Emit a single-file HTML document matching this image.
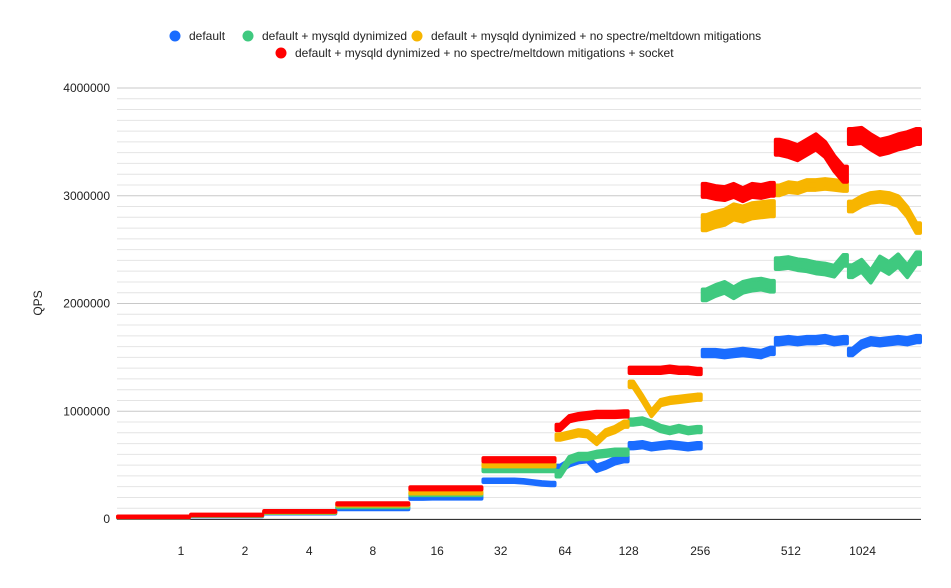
<!DOCTYPE html>
<html><head><meta charset="utf-8"><style>
body{margin:0;background:#fff;}
svg{display:block;font-family:"Liberation Sans",Arial,sans-serif;}
</style></head><body>
<svg id="chart" width="951" height="588">
<g id="legend" font-size="12" fill="#222">
 <g><circle cx="175" cy="36" r="5.5" fill="#1a6cff"/><text x="189" y="40">default</text></g>
 <g><circle cx="248" cy="36" r="5.5" fill="#3fc97f"/><text x="262" y="40">default + mysqld dynimized</text></g>
 <g><circle cx="417" cy="36" r="5.5" fill="#f7b500"/><text x="431" y="40">default + mysqld dynimized + no spectre/meltdown mitigations</text></g>
 <g><circle cx="281" cy="53" r="5.5" fill="#ff0000"/><text x="295" y="57">default + mysqld dynimized + no spectre/meltdown mitigations + socket</text></g>
</g>
<g id="grid"></g>
<g id="yticks" font-size="12" fill="#222" text-anchor="end"></g>
<g id="xticks" font-size="12" fill="#222" text-anchor="middle"></g>
<text x="42" y="303" font-size="12" fill="#222" text-anchor="middle" transform="rotate(-90 42 303)">QPS</text>
<g id="series"></g>
</svg>
<script>
const yTicks=[0,1000000,2000000,3000000,4000000];
const xLabels=["1","2","4","8","16","32","64","128","256","512","1024"];
const xLabelPos=[0.876,1.75,2.63,3.5,4.38,5.25,6.13,7.0,7.98,9.22,10.2];
const seriesNames=["default","dynimized","no-mitigations","socket"];
const colors=["#1a6cff","#3fc97f","#f7b500","#ff0000"];
// 8 samples per thread-count segment, 11 segments
const blue=[15000,15000,15000,15000,15000,15000,15000,15000, 28000,28000,28000,28000,28000,28000,28000,28000, 55000,55000,55000,55000,55000,55000,55000,55000, 97000,97000,97000,97000,97000,97000,97000,97000, 195000,195000,197000,197000,197000,197000,197000,197000, 355000,355000,355000,355000,350000,340000,330000,325000, 470000,520000,550000,560000,470000,500000,540000,560000, 680000,690000,670000,680000,690000,680000,670000,680000, 1540000,1540000,1530000,1540000,1550000,1540000,1530000,1560000, 1650000,1660000,1650000,1660000,1660000,1670000,1650000,1660000, 1550000,1620000,1650000,1640000,1650000,1660000,1650000,1670000];
const green=[17000,17000,17000,17000,17000,17000,17000,17000, 32000,32000,32000,32000,32000,32000,32000,32000, 60000,60000,60000,60000,60000,60000,60000,60000, 115000,115000,115000,115000,115000,115000,115000,115000, 230000,230000,230000,230000,230000,230000,230000,230000, 455000,455000,455000,455000,455000,455000,455000,455000, 420000,550000,580000,580000,600000,610000,620000,620000, 900000,910000,880000,840000,820000,840000,820000,830000, 2080000,2120000,2150000,2100000,2150000,2170000,2180000,2160000, 2370000,2380000,2360000,2350000,2330000,2320000,2300000,2400000, 2300000,2350000,2250000,2380000,2330000,2400000,2300000,2420000];
const yellow=[18000,18000,18000,18000,18000,18000,18000,18000, 35000,35000,35000,35000,35000,35000,35000,35000, 65000,65000,65000,65000,65000,65000,65000,65000, 130000,130000,130000,130000,130000,130000,130000,130000, 245000,245000,245000,245000,245000,245000,245000,245000, 500000,500000,500000,500000,500000,500000,500000,500000, 760000,780000,800000,790000,720000,800000,830000,880000, 1250000,1120000,980000,1080000,1100000,1110000,1120000,1130000, 2750000,2780000,2800000,2850000,2830000,2860000,2870000,2880000, 3050000,3080000,3070000,3100000,3100000,3110000,3100000,3090000, 2900000,2950000,2980000,2990000,2980000,2950000,2850000,2700000];
const red=[20000,20000,20000,20000,20000,20000,20000,20000, 38000,38000,38000,38000,38000,38000,38000,38000, 70000,70000,70000,70000,70000,70000,70000,70000, 140000,140000,140000,140000,140000,140000,140000,140000, 285000,285000,285000,285000,285000,285000,285000,285000, 550000,550000,550000,550000,550000,550000,550000,550000, 850000,930000,950000,960000,970000,970000,970000,975000, 1380000,1380000,1380000,1380000,1390000,1380000,1380000,1370000, 3050000,3030000,3020000,3050000,3010000,3050000,3040000,3060000, 3450000,3430000,3400000,3450000,3500000,3430000,3300000,3200000, 3550000,3560000,3500000,3450000,3470000,3500000,3520000,3550000];
const spreadPerSeg=[
 [3000,3000,4000,6000,8000,12000,25000,25000,30000,30000,30000],
 [3000,3000,4000,6000,8000,12000,25000,25000,50000,50000,55000],
 [3000,3000,4000,6000,8000,12000,25000,25000,70000,45000,45000],
 [3000,3000,4000,6000,10000,15000,25000,25000,60000,70000,70000]];
const data=[blue,green,yellow,red];

const X0=117,X1=921,Y0=519,Y4=88,VMAX=4000000,SEG=11,PER=8;
const yS=v=>Y0-(v/VMAX)*(Y0-Y4);
const xS=t=>X0+((t+0.5)/(SEG*PER))*(X1-X0);
const xSeg=s=>X0+(s/SEG)*(X1-X0);
const NS="http://www.w3.org/2000/svg";
function mk(tag,attrs,parent){const e=document.createElementNS(NS,tag);for(const k in attrs)e.setAttribute(k,attrs[k]);parent.appendChild(e);return e;}
const grid=document.getElementById('grid');
for(let v=0;v<=VMAX;v+=100000){
 const major=v%1000000===0;
 const l=mk('line',{x1:X0,x2:X1,y1:yS(v),y2:yS(v),stroke:major?'#c8c8c8':'#e4e4e4','stroke-width':1},grid);
 
 
}
const ax=mk('line',{x1:X0,x2:X1,y1:Y0+0.5,y2:Y0+0.5,stroke:'#333','stroke-width':1},grid);


const yt=document.getElementById('yticks');
yTicks.forEach(v=>{const t=mk('text',{x:110,y:yS(v)+4},yt);t.textContent=String(v);
 
 });
const xt=document.getElementById('xticks');
xLabels.forEach((s,i)=>{const t=mk('text',{x:xSeg(xLabelPos[i]),y:555},xt);t.textContent=s;
 
 });
const sg=document.getElementById('series');
data.forEach((arr,si)=>{
 const g=mk('g',{},sg);
 
 
 for(let s=0;s<SEG;s++){
  const pts=[];
  for(let k=0;k<PER;k++){const t=s*PER+k;pts.push([xS(t),arr[t]]);}
  const sp=spreadPerSeg[si][s];
  const xa=xSeg(s)+1,xb=xSeg(s+1)-1;
  let d='M'+xa+','+yS(pts[0][1]+sp);
  pts.forEach(p=>d+=' L'+p[0]+','+yS(p[1]+sp));
  d+=' L'+xb+','+yS(pts[PER-1][1]+sp)+' L'+xb+','+yS(pts[PER-1][1]-sp);
  for(let k=PER-1;k>=0;k--)d+=' L'+pts[k][0]+','+yS(pts[k][1]-sp);
  d+=' L'+xa+','+yS(pts[0][1]-sp)+'Z';
  const band=mk('path',{d:d,fill:colors[si],stroke:colors[si],'stroke-width':4,'stroke-linejoin':'round'},g);
  
  
 }
});
</script>
</body></html>
